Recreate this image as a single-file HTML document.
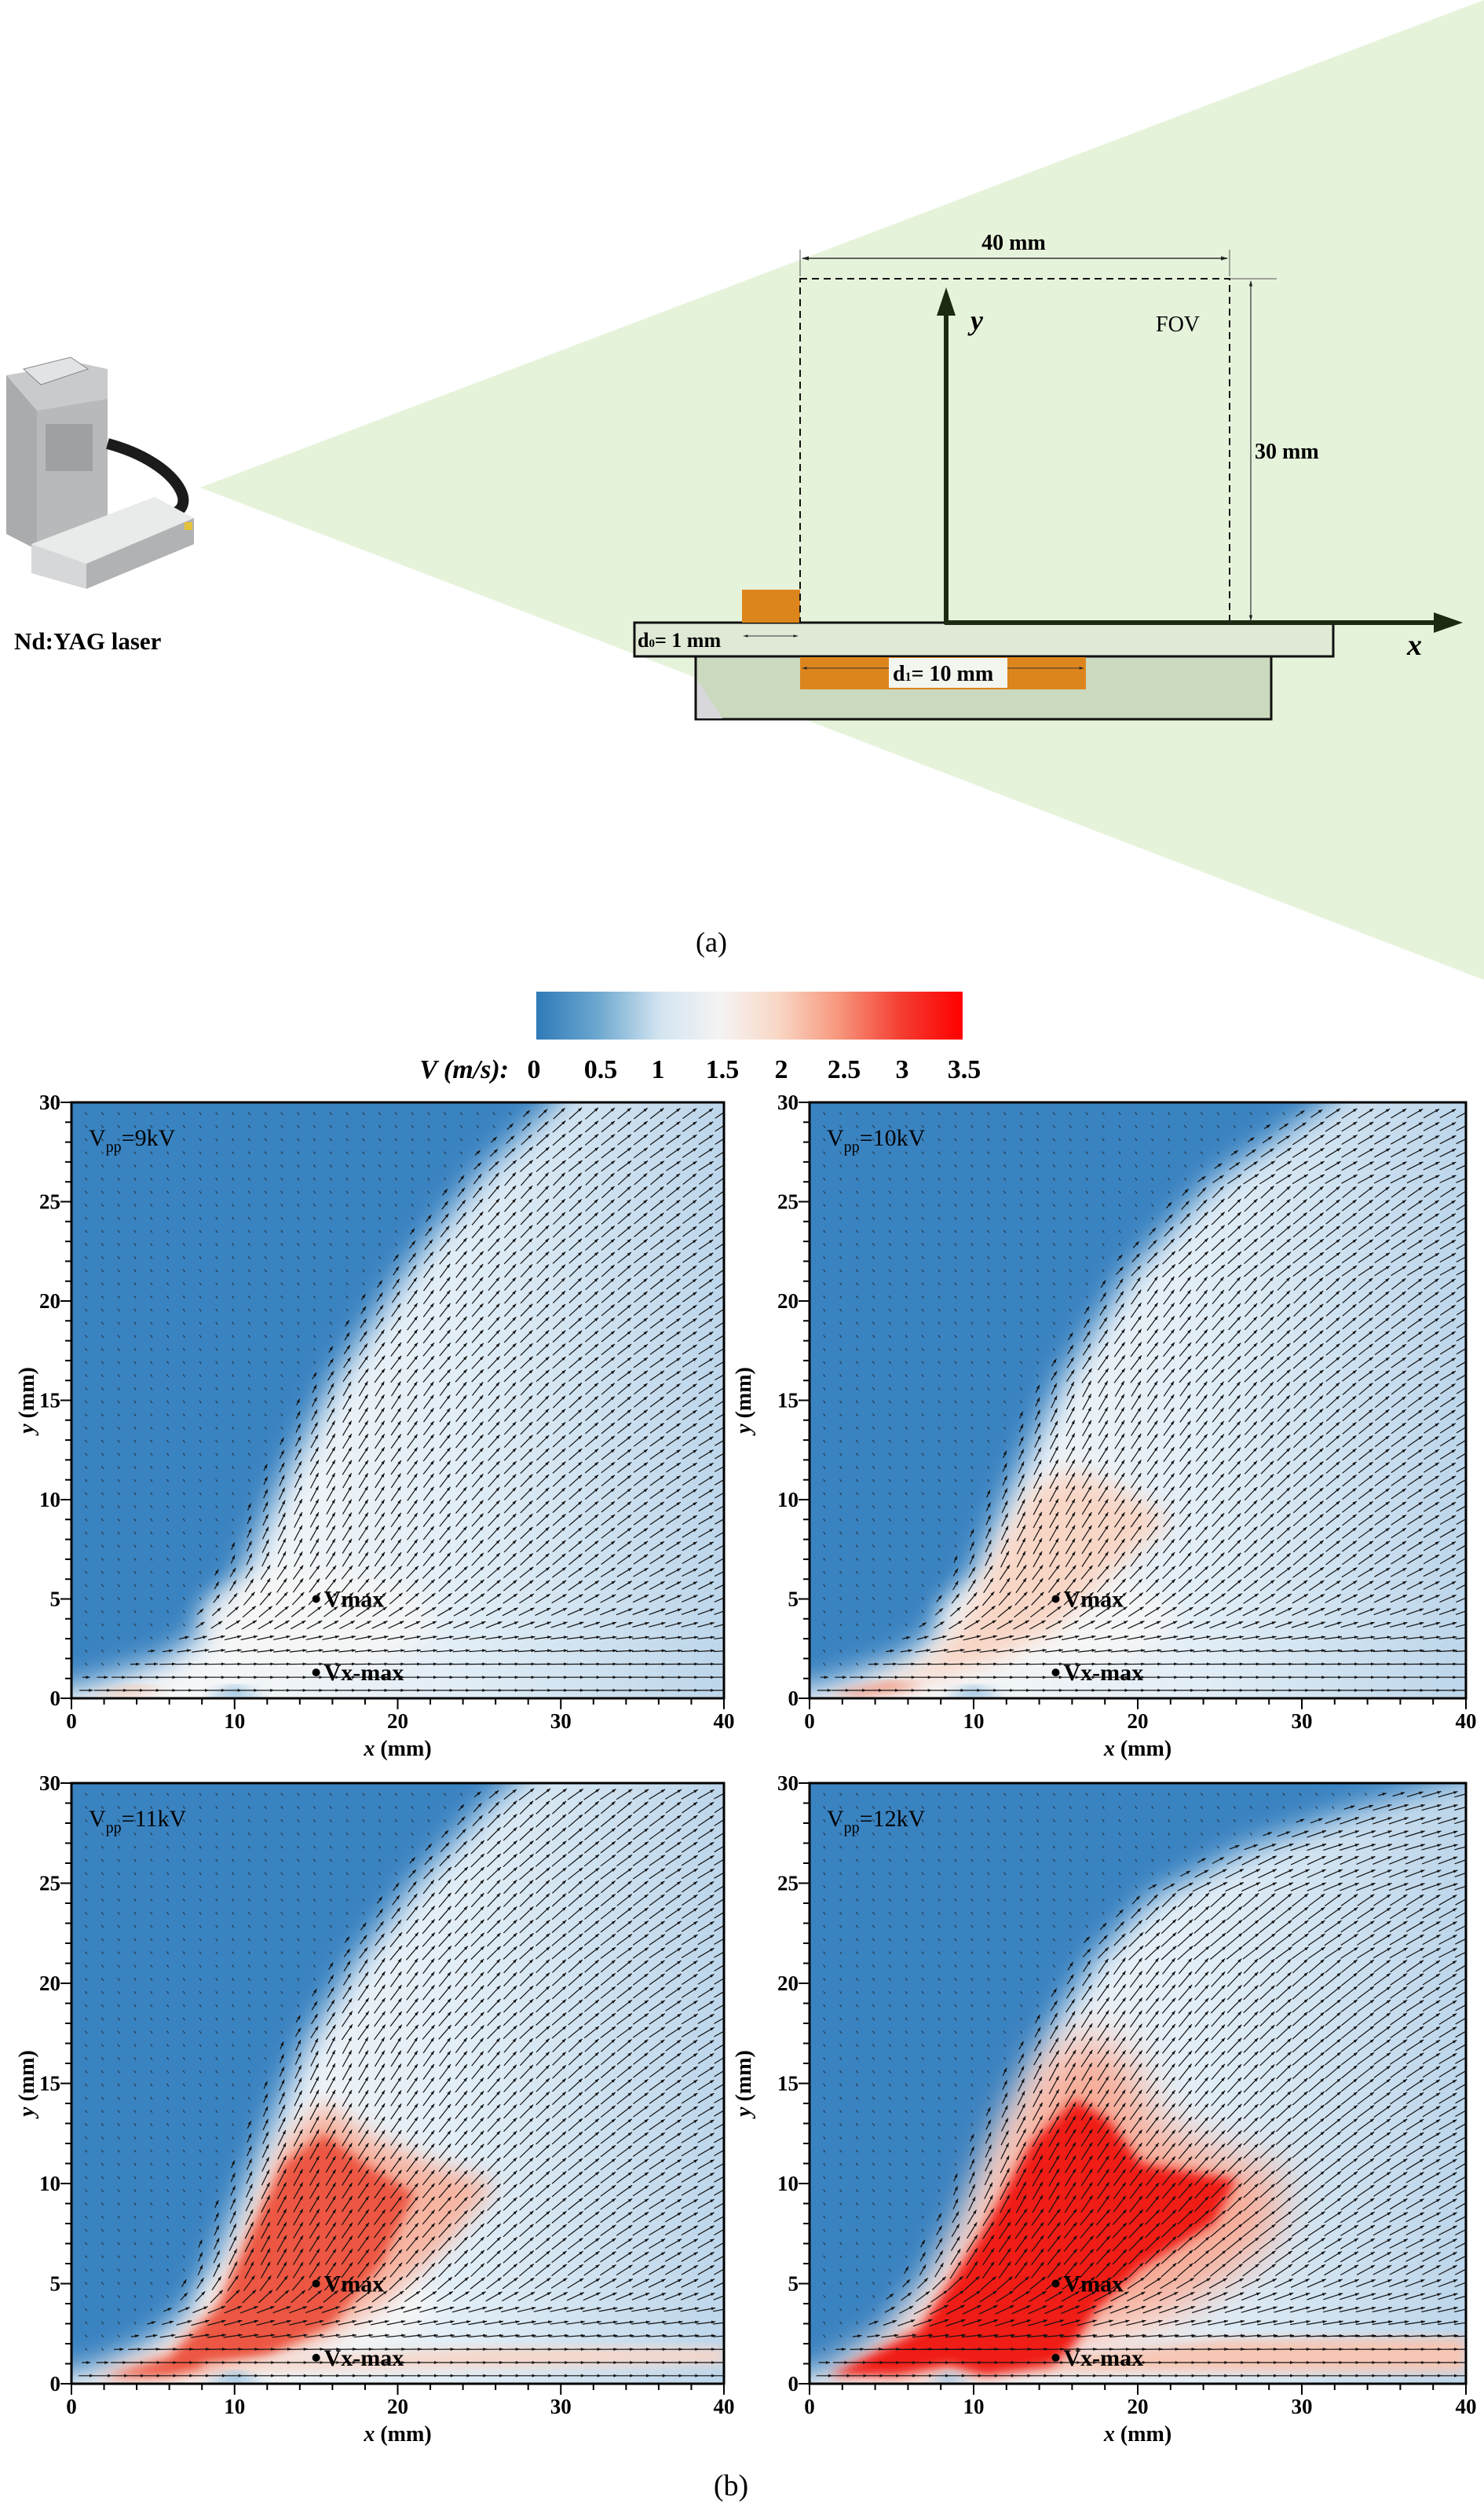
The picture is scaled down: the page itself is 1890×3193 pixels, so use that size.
<!DOCTYPE html>
<html><head><meta charset="utf-8">
<style>
html,body{margin:0;padding:0;background:#fff;}
svg{display:block;}
text{font-family:"Liberation Serif","Times New Roman",serif;}
</style></head>
<body>
<svg id="s" width="1890" height="3193" viewBox="0 0 1890 3193" xmlns="http://www.w3.org/2000/svg" font-family="Liberation Serif, Times New Roman, serif">
<defs>
<marker id="dh" viewBox="0 0 10 10" refX="9" refY="5" markerWidth="6" markerHeight="6" orient="auto-start-reverse"><path d="M0,2L10,5L0,8z" fill="#222"/></marker>
<linearGradient id="cb" x1="0" x2="1" y1="0" y2="0">
<stop offset="0" stop-color="#2f7ab8"/>
<stop offset="0.14" stop-color="#6aa6cf"/>
<stop offset="0.29" stop-color="#d3e4f0"/>
<stop offset="0.43" stop-color="#f4f4f4"/>
<stop offset="0.57" stop-color="#f9d6c4"/>
<stop offset="0.71" stop-color="#f7967c"/>
<stop offset="0.86" stop-color="#f43b2f"/>
<stop offset="1" stop-color="#ff0000"/>
</linearGradient>
<filter id="bl" x="-20%" y="-20%" width="140%" height="140%"><feGaussianBlur stdDeviation="14"/></filter>
<filter id="bl2" x="-20%" y="-20%" width="140%" height="140%"><feGaussianBlur stdDeviation="7"/></filter>
<filter id="bl4" x="-20%" y="-20%" width="140%" height="140%"><feGaussianBlur stdDeviation="18"/></filter>
<filter id="bl3" x="-30%" y="-30%" width="160%" height="160%"><feGaussianBlur stdDeviation="28"/></filter>
</defs>

<polygon points="255,621 1890,0 1890,1248" fill="#e6f3db"/>

<polygon points="8,478 100,462 137,470 137,683 47,700 8,680" fill="#c9cacb"/>
<polygon points="47,523 137,508 137,683 47,700" fill="#b7b9ba"/>
<polygon points="8,478 47,523 47,700 8,680" fill="#a9abad"/>
<polygon points="30,470 90,455 112,470 52,490" fill="#e2e3e4" stroke="#888"/>
<rect x="58" y="540" width="60" height="60" fill="#9ea0a2"/>
<path d="M137,565 C230,590 255,650 215,655" stroke="#1b1b1b" stroke-width="14" fill="none"/>
<polygon points="40,693 197,633 247,660 247,693 110,750 40,730" fill="#d6d7d8"/>
<polygon points="40,693 197,633 247,660 110,718" fill="#e9eaea"/>
<polygon points="110,718 247,660 247,693 110,750" fill="#b0b2b3"/>
<rect x="235" y="665" width="10" height="10" fill="#e6c23a"/>
<text x="18" y="827" font-weight="bold" font-size="31">Nd:YAG laser</text>

<rect x="808" y="793" width="890" height="43" fill="#dfe9d5" stroke="#111" stroke-width="3"/>
<rect x="886" y="836" width="733" height="80" fill="#cbd9be" stroke="#111" stroke-width="3"/>
<polygon points="888,866 888,915 920,915" fill="#d8d8dc"/>
<rect x="945" y="751" width="74" height="42" fill="#dd851d"/>
<rect x="1019" y="837" width="364" height="41" fill="#dd851d"/>
<rect x="1132" y="838" width="151" height="38" fill="#f3f6ef"/>
<rect x="1019" y="355" width="547" height="438" fill="none" stroke="#111" stroke-width="2" stroke-dasharray="9,6"/>
<line x1="1019" y1="318" x2="1019" y2="352" stroke="#555" stroke-width="1"/>
<line x1="1566" y1="318" x2="1566" y2="352" stroke="#555" stroke-width="1"/>
<line x1="1022" y1="329" x2="1563" y2="329" stroke="#333" stroke-width="1.5" marker-start="url(#dh)" marker-end="url(#dh)"/>
<line x1="1566" y1="355" x2="1626" y2="355" stroke="#555" stroke-width="1"/>
<line x1="1593" y1="358" x2="1593" y2="790" stroke="#333" stroke-width="1.2" marker-start="url(#dh)" marker-end="url(#dh)"/>
<line x1="1205" y1="795" x2="1205" y2="400" stroke="#1c2a14" stroke-width="6"/>
<polygon points="1205,366 1193,402 1217,402" fill="#1c2a14"/>
<line x1="1203" y1="793" x2="1830" y2="793" stroke="#1c2a14" stroke-width="6"/>
<polygon points="1863,793 1826,780 1826,806" fill="#1c2a14"/>
<line x1="947" y1="810" x2="1016" y2="810" stroke="#333" stroke-width="1" marker-start="url(#dh)" marker-end="url(#dh)"/>
<line x1="1022" y1="851" x2="1132" y2="851" stroke="#333" stroke-width="1" marker-start="url(#dh)"/>
<line x1="1283" y1="851" x2="1380" y2="851" stroke="#333" stroke-width="1" marker-end="url(#dh)"/>
<text x="1291" y="318" font-weight="bold" font-size="28" text-anchor="middle">40 mm</text>
<text x="1472" y="422" font-size="28">FOV</text>
<text x="1598" y="584" font-weight="bold" font-size="28">30 mm</text>
<text x="1236" y="420" font-weight="bold" font-size="36" font-style="italic">y</text>
<text x="1792" y="834" font-weight="bold" font-size="38" font-style="italic">x</text>
<text x="812" y="824" font-weight="bold" font-size="26">d<tspan font-size="15">0</tspan>= 1 mm</text>
<text x="1137" y="867" font-weight="bold" font-size="28">d<tspan font-size="16">1</tspan>= 10 mm</text>
<text x="906" y="1212" font-size="36" text-anchor="middle">(a)</text>

<rect x="683" y="1263" width="543" height="61" fill="url(#cb)"/>
<text x="648" y="1373" font-weight="bold" font-size="34" font-style="italic" text-anchor="end">V (m/s):</text>
<g font-size="34" text-anchor="middle" font-weight="bold">
<text x="680" y="1373">0</text><text x="765" y="1373">0.5</text><text x="838" y="1373">1</text><text x="920" y="1373">1.5</text><text x="995" y="1373">2</text><text x="1075" y="1373">2.5</text><text x="1149" y="1373">3</text><text x="1228" y="1373">3.5</text>
</g>
<text x="931" y="3178" font-size="38" text-anchor="middle">(b)</text>
<g id="panels"></g>
</svg>
<script>
(function(){
var NS="http://www.w3.org/2000/svg";
var G=document.getElementById("panels");
var defs=document.querySelector("defs");
function el(t,a,p){var e=document.createElementNS(NS,t);for(var k in a)e.setAttribute(k,a[k]);(p||G).appendChild(e);return e;}
var P=[
{x0:91,y0:1404,w:831,h:759,lab:"9kV",yo:-48,
 B:[[0,0.6],[1.5,1],[5.2,2],[7.9,3.6],[10,6.5],[12.6,11.3],[15.6,16.1],[20,21.6],[24.5,26.4],[29,30],[31,32]],red:0,L:22},
{x0:1031,y0:1404,w:836,h:759,lab:"10kV",yo:-75,
 B:[[0,0.6],[1.5,1],[5,2],[7.5,3.6],[9.6,6.5],[12,11],[14.8,16],[19,21.5],[24,26],[31,30],[33,32]],red:1,L:23},
{x0:91,y0:2271,w:831,h:765,lab:"11kV",yo:-48,
 B:[[0,0.6],[1.5,1],[4.5,2.2],[7,4],[9.2,8],[11.2,12],[13.8,17],[16.8,21],[20.5,25],[25,29],[28,31]],red:2,L:24},
{x0:1031,y0:2271,w:836,h:765,lab:"12kV",yo:-75,
 B:[[0,0.5],[2,1.5],[3.9,2.5],[6.7,5.4],[8.8,8.4],[10.7,12],[12.9,15.8],[14.8,18.6],[17,21.4],[20.2,24.2],[25.7,26.6],[32,28.5],[38,30],[42,31]],red:3,L:26}
];
P.forEach(function(p,i){
 var X=function(x){return p.x0+x/40*p.w;}, Y=function(y){return p.y0+p.h-y/30*p.h;};
 var cp=el("clipPath",{id:"c"+i},defs); el("rect",{x:p.x0,y:p.y0,width:p.w,height:p.h},cp);
 var g=el("g",{"clip-path":"url(#c"+i+")"});
 el("rect",{x:p.x0,y:p.y0,width:p.w,height:p.h,fill:"#3a83c1"},g);
 var lg=el("linearGradient",{id:"lg"+i,gradientUnits:"userSpaceOnUse",x1:X(8),y1:0,x2:X(40),y2:0},defs);
 el("stop",{offset:"0",  "stop-color":"#f6f7f8"},lg);
 el("stop",{offset:"0.5","stop-color":"#e1edf6"},lg);
 el("stop",{offset:"1","stop-color":"#bdd6ea"},lg);
 var pts=p.B.map(function(b){return X(b[0]+0.6)+","+Y(b[1]);});
 pts.push(X(50)+","+Y(40)); pts.push(X(50)+","+Y(-3)); pts.push(X(-3)+","+Y(-3)); pts.push(X(-3)+","+Y(0.3));
 el("polygon",{points:pts.join(" "),fill:"url(#lg"+i+")",filter:"url(#bl4)"},g);
 el("ellipse",{cx:X(15),cy:Y(4),rx:p.w*0.18,ry:p.h*0.08,fill:"#f8f7f6",filter:"url(#bl)",opacity:0.8},g);
 function poly(a,fill,f,op){el("polygon",{points:a.map(function(q){return X(q[0])+","+Y(q[1]);}).join(" "),fill:fill,filter:"url(#"+f+")",opacity:op||1},g);}
 if(p.red==0){poly([[1,0.2],[4,0.6],[6,0.4],[3,0.1]],"#f3c3ad","bl2");poly([[8,0],[10,0.6],[12,0]],"#8fbcdf","bl2");}
 if(p.red==1){
  poly([[3,0.5],[7,1.6],[9.5,4],[11.5,7.5],[13.5,10.5],[16,11.5],[19,10.5],[22,9],[18,6],[15,3.5],[11,1.8],[6,0.6]],"#f8d6c6","bl");
  poly([[1,0.2],[5,0.8],[7,0.6],[3,0.1]],"#f08a72","bl2");
  poly([[8,0],[10,0.6],[12,0]],"#8fbcdf","bl2");
 }
 if(p.red==2){
  poly([[1,0.3],[6,1.5],[9,4],[11,8],[13,12],[15.5,14],[18,12.5],[22,11],[26,10],[23,7],[19,4],[15,2],[10,1],[5,0.3]],"#f6b4a1","bl");
  poly([[2,0.3],[6,1.3],[9,3.8],[11,7.5],[13,11],[15.5,12.5],[18,11],[21,9.5],[19,6],[16,3],[12,1.4],[6,0.4]],"#ec5743","bl2");
  poly([[8,1],[25,1.8],[40,1.8],[40,1],[25,0.8],[8,0.6]],"#f6d7ca","bl2");
  poly([[8,0],[10,0.6],[12,0]],"#8fbcdf","bl2");
 }
 if(p.red==3){
  poly([[0.5,0.3],[5,1.5],[8,4],[10,8],[12,12.5],[14.5,16],[17,17.5],[19.5,16],[21,13],[25,11.5],[29,10.5],[28,7],[23,4],[18,2.5],[12,1.5],[6,0.5]],"#f7ab97","bl3");
  poly([[8,0.6],[25,2.2],[40,2.3],[40,0.6],[25,0.6]],"#f7c6b4","bl2");
  poly([[1.2,0.4],[6.7,2.7],[10.5,7.5],[13.5,12],[16.2,14.2],[18.2,13.2],[20.2,11],[23,10.6],[26,10.2],[24.6,8],[20.2,5.8],[17.5,3.7],[16,1.8],[14.8,0.9],[10.7,0.4],[8.5,0.9],[5.3,0.4]],"#f01a18","bl2");
  poly([[7,0],[8.5,0.6],[10,0]],"#9ec4e1","bl2");
 }
 function bx(y){var B=p.B;if(y<=B[0][1])return B[0][0];for(var k=1;k<B.length;k++){if(y<=B[k][1]){var t=(y-B[k-1][1])/(B[k][1]-B[k-1][1]);return B[k-1][0]+t*(B[k][0]-B[k-1][0]);}}return 99;}
 function ang(y){var B=p.B;for(var k=1;k<B.length;k++){if(y<=B[k][1]){return Math.atan2((B[k][1]-B[k-1][1])*p.h/30,(B[k][0]-B[k-1][0])*p.w/40);}}return 0.5;}
 var d="",dots="",hp="";
 for(var yy=0.4;yy<30;yy+=0.66){
  for(var xx=0.9;xx<40;xx+=1.0){
   var dd=xx-bx(yy);
   var cx=X(xx),cy=Y(yy);
   if(dd<-1.0){dots+="M"+(cx-1.2).toFixed(1)+","+(cy-1.6).toFixed(1)+"l2.4,3.2";continue;}
   var s=Math.min(1,(dd+1.0)/3);
   var k=Math.min(1,Math.max(0,(yy-1.5)/4))*(1-0.55*Math.min(1,Math.max(0,dd/28)));
   var a=Math.min(ang(yy),1.15)*k;
   var L=p.L*(0.4+0.6*s);
   var ex=cx+L*Math.cos(a)/2, ey=cy-L*Math.sin(a)/2, sx=cx-L*Math.cos(a)/2, sy=cy+L*Math.sin(a)/2;
   d+="M"+sx.toFixed(1)+","+sy.toFixed(1)+"L"+ex.toFixed(1)+","+ey.toFixed(1);
   var vx=Math.cos(a),vy=-Math.sin(a),h=5;
   hp+="M"+ex.toFixed(1)+","+ey.toFixed(1)+"L"+(ex-h*vx-2*vy).toFixed(1)+","+(ey-h*vy+2*vx).toFixed(1)+"L"+(ex-h*vx+2*vy).toFixed(1)+","+(ey-h*vy-2*vx).toFixed(1)+"z";
  }
 }
 el("path",{d:dots,stroke:"#222","stroke-width":1.2,fill:"none",opacity:0.75},g);
 el("path",{d:d,stroke:"#111","stroke-width":1.2,fill:"none"},g);
 el("path",{d:hp,fill:"#111"},g);
 el("circle",{cx:X(15),cy:Y(5),r:5,fill:"#000"});
 el("circle",{cx:X(15),cy:Y(1.3),r:5,fill:"#000"});
 var t1=el("text",{x:X(15)+10,y:Y(5)+10,"font-size":30,"font-weight":"bold"});t1.textContent="Vmax";
 var t2=el("text",{x:X(15)+10,y:Y(1.3)+10,"font-size":30,"font-weight":"bold"});t2.textContent="Vx-max";
 var tl=el("text",{x:p.x0+22,y:p.y0+55,"font-size":30});
 tl.appendChild(document.createTextNode("V"));var sb=el("tspan",{"font-size":20,dy:8},tl);sb.textContent="pp";
 var r2=el("tspan",{dy:-8},tl);r2.textContent="="+p.lab;
 el("rect",{x:p.x0,y:p.y0,width:p.w,height:p.h,fill:"none",stroke:"#000","stroke-width":3});
 var tk="";
 for(var x=0;x<=40;x+=2){var L2=(x%10==0)?14:8;tk+="M"+X(x)+","+(p.y0+p.h)+"v"+L2;}
 for(var y=0;y<=30;y+=1){var L3=(y%5==0)?14:8;tk+="M"+p.x0+","+Y(y)+"h"+(-L3);}
 el("path",{d:tk,stroke:"#000","stroke-width":2});
 for(var x=0;x<=40;x+=10){var t=el("text",{x:X(x),y:p.y0+p.h+38,"font-size":27,"font-weight":"bold","text-anchor":"middle"});t.textContent=x;}
 for(var y=0;y<=30;y+=5){var t=el("text",{x:p.x0-14,y:Y(y)+9,"font-size":27,"font-weight":"bold","text-anchor":"end"});t.textContent=y;}
 var xt=el("text",{x:p.x0+p.w/2,y:p.y0+p.h+73,"font-size":28,"font-weight":"bold","text-anchor":"middle"});
 var xi=el("tspan",{"font-style":"italic"},xt);xi.textContent="x";xt.appendChild(document.createTextNode(" (mm)"));
 var yx=p.x0+p.yo, yc=p.y0+p.h/2;
 var yt=el("text",{x:yx,y:yc,"font-size":28,"font-weight":"bold","text-anchor":"middle",transform:"rotate(-90 "+yx+" "+yc+")"});
 var yi=el("tspan",{"font-style":"italic"},yt);yi.textContent="y";yt.appendChild(document.createTextNode(" (mm)"));
});
})();
</script>
</body></html>
